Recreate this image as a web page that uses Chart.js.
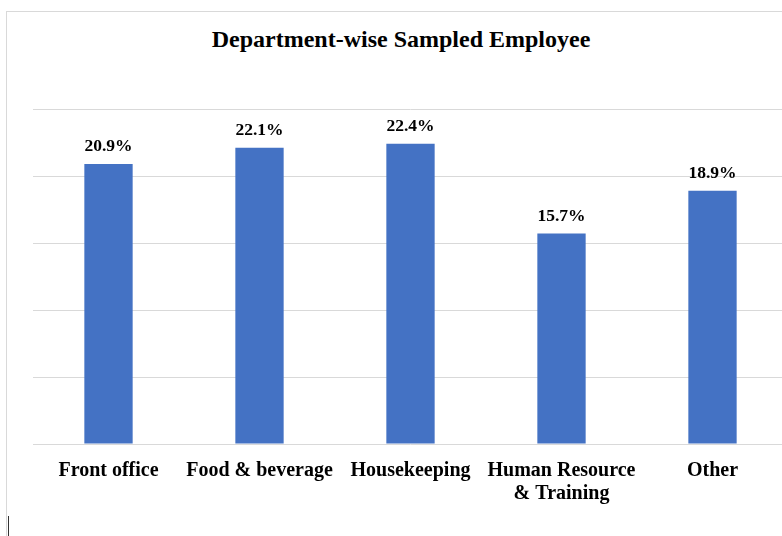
<!DOCTYPE html>
<html>
<head>
<meta charset="utf-8">
<script src="https://cdn.jsdelivr.net/npm/chart.js@4/dist/chart.umd.min.js"></script>
<style>
  html, body { margin: 0; padding: 0; background: #fff; overflow: hidden; width: 782px; height: 536px; }
  #frame { position: absolute; left: 6px; top: 11px; width: 800px; height: 530px; border-left: 1px solid #d9d9d9; border-top: 1px solid #d9d9d9; }
  #cursor { position: absolute; left: 8px; top: 516px; width: 1px; height: 20px; background: #333; }
  #title { position: absolute; left: 0; width: 802px; top: 26px; text-align: center; font: bold 24px "Liberation Serif", "Times New Roman", serif; color: #000; }
  #wrap { position: absolute; left: 0; top: 0; width: 790px; height: 536px; }
</style>
</head>
<body>
<div id="frame"></div>
<div id="cursor"></div>
<div id="title">Department-wise Sampled Employee</div>
<div id="wrap"><canvas id="c"></canvas></div>
<script>
const categories = ["Front office", "Food & beverage", "Housekeeping", ["Human Resource", "& Training"], "Other"];
const values = [20.9, 22.1, 22.4, 15.7, 18.9];
const valueLabels = ["20.9%", "22.1%", "22.4%", "15.7%", "18.9%"];

const labelPlugin = {
  id: 'barLabels',
  afterDatasetsDraw(chart) {
    const ctx = chart.ctx;
    const meta = chart.getDatasetMeta(0);
    ctx.save();
    ctx.font = 'bold 17.5px "Liberation Serif", "Times New Roman", serif';
    ctx.fillStyle = '#000';
    ctx.textAlign = 'center';
    ctx.textBaseline = 'alphabetic';
    meta.data.forEach((bar, i) => {
      ctx.fillText(valueLabels[i], bar.x, bar.y - 12.5);
    });
    ctx.restore();
  }
};

new Chart(document.getElementById('c'), {
  type: 'bar',
  data: {
    labels: categories,
    datasets: [{
      data: values,
      backgroundColor: '#4472C4',
      borderWidth: 0,
      categoryPercentage: 1,
      barPercentage: 0.32
    }]
  },
  options: {
    responsive: true,
    maintainAspectRatio: false,
    animation: false,
    devicePixelRatio: 1,
    layout: { padding: { left: 33, right: 2, top: 109, bottom: 0 } },
    plugins: { legend: { display: false }, tooltip: { enabled: false }, title: { display: false } },
    scales: {
      x: {
        grid: { display: false, drawTicks: false },
        border: { display: false },
        ticks: {
          color: '#000',
          padding: 15,
          maxRotation: 0,
          autoSkip: false,
          font: { family: '"Liberation Serif", "Times New Roman", serif', size: 20, weight: 'bold', lineHeight: 1.15 }
        },
        afterFit(s) { s.height = 92; }
      },
      y: {
        min: 0, max: 25,
        ticks: { display: false, stepSize: 5 },
        grid: { color: '#d9d9d9', lineWidth: 1, drawTicks: false },
        border: { display: false },
        afterFit(s) { s.width = 0; }
      }
    }
  },
  plugins: [labelPlugin]
});
</script>
</body>
</html>
